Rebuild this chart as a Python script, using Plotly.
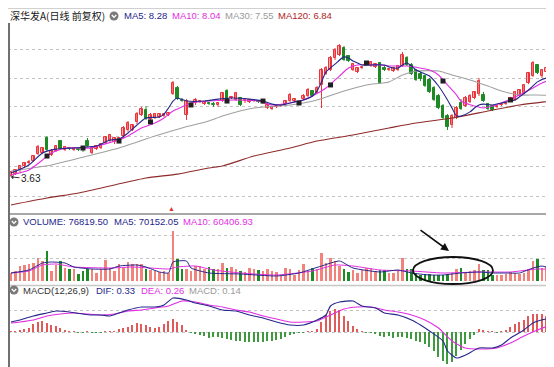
import plotly.graph_objects as go

# ---------------- data ----------------
opens = [3.67, 3.76, 3.95, 4.13, 4.27, 4.36, 4.68, 4.73, 5.42, 4.64,
         4.82, 5.28, 4.87, 4.96, 4.87, 4.91, 5.01, 5.28, 4.73, 4.91,
         4.96, 5.19, 5.28, 5.24, 5.33, 5.51, 5.79, 5.79, 6.16, 6.48,
         6.71, 6.29, 6.34, 6.39, 6.43, 6.48, 7.44, 7.72, 7.17, 6.48,
         6.94, 7.03, 7.08, 6.98, 7.03, 6.98, 6.94, 7.12, 7.58, 7.26,
         7.17, 7.26, 7.12, 7.08, 7.12, 7.12, 7.03, 6.80, 6.75, 6.85,
         6.89, 6.98, 7.12, 7.12, 6.98, 7.21, 7.35, 7.58, 7.49, 7.86,
         8.36, 8.55, 9.10, 9.24, 9.56, 9.19, 8.55, 8.46, 8.64, 8.82,
         8.73, 8.69, 8.87, 8.64, 8.55, 8.50, 8.55, 8.73, 9.10, 8.78,
         8.55, 8.36, 8.27, 8.09, 7.72, 7.35, 6.89, 6.43, 6.02, 6.34,
         7.03, 6.89, 7.08, 7.26, 7.44, 7.40, 6.98, 6.89, 6.85, 6.94,
         6.98, 7.12, 7.17, 7.35, 7.49, 7.95, 8.27, 8.78, 8.27, 8.46,
         8.55, 7.63, 7.72]
closes = [3.86, 3.95, 4.13, 4.27, 4.32, 4.59, 5.01, 4.96, 4.87, 4.82,
          5.05, 4.91, 5.01, 4.91, 4.96, 4.87, 4.87, 5.05, 4.96, 5.05,
          5.14, 5.47, 5.56, 5.42, 5.42, 5.88, 6.11, 6.02, 6.52, 6.75,
          6.29, 6.48, 6.52, 6.52, 6.52, 6.57, 7.95, 7.21, 7.12, 7.12,
          6.98, 7.17, 7.12, 7.08, 6.98, 6.94, 7.03, 7.49, 7.21, 7.31,
          7.49, 6.94, 7.17, 7.17, 7.17, 7.08, 7.08, 6.94, 6.85, 6.89,
          6.94, 7.12, 7.40, 7.21, 7.08, 7.35, 7.63, 7.35, 7.72, 8.55,
          8.64, 9.10, 9.47, 9.65, 9.01, 8.96, 8.82, 8.64, 8.69, 8.87,
          8.92, 8.82, 7.95, 8.55, 8.59, 8.64, 8.73, 9.24, 8.78, 8.36,
          8.09, 8.13, 7.81, 7.54, 7.17, 6.80, 6.34, 5.93, 6.43, 6.80,
          6.75, 7.26, 7.35, 7.54, 8.04, 7.12, 6.75, 6.71, 6.89, 6.98,
          7.03, 7.26, 7.54, 7.63, 7.86, 8.41, 8.87, 8.41, 8.55, 8.64,
          8.36, 8.27, 8.18]
highs = [3.90, 3.99, 4.18, 4.32, 4.41, 4.64, 5.10, 5.01, 5.51, 4.91,
         5.10, 5.33, 5.05, 5.01, 5.01, 4.96, 5.05, 5.42, 5.01, 5.10,
         5.19, 5.51, 5.60, 5.47, 5.47, 5.97, 6.20, 6.06, 6.62, 6.85,
         6.89, 6.57, 6.57, 6.57, 6.57, 6.62, 8.04, 7.81, 7.26, 7.21,
         7.03, 7.26, 7.17, 7.12, 7.08, 7.08, 7.08, 7.54, 7.67, 7.35,
         7.54, 7.31, 7.21, 7.21, 7.21, 7.17, 7.12, 6.98, 6.89, 6.94,
         6.98, 7.17, 7.49, 7.26, 7.12, 7.44, 7.72, 7.63, 7.81, 8.64,
         8.73, 9.19, 9.56, 9.74, 9.65, 9.24, 8.87, 8.69, 8.73, 8.92,
         8.96, 8.87, 8.92, 8.73, 8.64, 8.69, 8.78, 9.38, 9.19, 8.87,
         8.59, 8.46, 8.32, 8.18, 7.81, 7.44, 6.98, 6.52, 6.52, 6.89,
         7.21, 7.35, 7.44, 7.58, 8.18, 7.54, 7.03, 6.94, 6.94, 7.03,
         7.08, 7.31, 7.58, 7.67, 7.90, 8.46, 8.96, 8.82, 8.59, 8.69,
         8.64, 8.32, 8.23]
lows = [3.63, 3.72, 3.86, 4.04, 4.18, 4.32, 4.64, 4.68, 4.82, 4.59,
        4.78, 4.87, 4.82, 4.87, 4.82, 4.82, 4.78, 5.01, 4.68, 4.87,
        4.91, 5.14, 5.24, 5.14, 5.28, 5.42, 5.70, 5.74, 6.06, 6.43,
        6.25, 6.25, 6.29, 6.34, 6.39, 6.43, 7.40, 7.17, 7.08, 6.25,
        6.89, 6.94, 7.03, 6.94, 6.94, 6.85, 6.85, 7.08, 7.17, 7.21,
        7.12, 6.89, 7.03, 7.03, 7.08, 7.03, 6.98, 6.75, 6.71, 6.80,
        6.85, 6.94, 7.08, 7.08, 6.94, 7.17, 7.31, 7.31, 7.44, 6.80,
        8.32, 8.50, 9.01, 9.19, 8.96, 8.92, 8.50, 8.41, 8.59, 8.78,
        8.69, 8.64, 7.90, 8.50, 8.50, 8.46, 8.50, 8.69, 8.73, 8.32,
        8.04, 8.04, 7.77, 7.49, 7.12, 6.75, 6.29, 5.79, 5.88, 6.29,
        6.71, 6.85, 7.03, 7.21, 7.35, 7.08, 6.71, 6.66, 6.80, 6.89,
        6.94, 7.08, 7.12, 7.31, 7.44, 7.90, 8.23, 8.36, 8.18, 8.27,
        8.32, 7.58, 7.67]

ma5_idx = [0, 4, 7, 10, 14, 17, 19, 22, 24, 26, 28, 30, 33, 34, 35, 36, 37, 39, 43, 46,
           49, 53, 56, 58, 60, 63, 65, 67, 68, 69, 70, 72, 74, 75, 76, 77, 78, 80, 83, 84,
           86, 87, 88, 89, 90, 93, 95, 97, 98, 99, 100, 102, 103, 104, 105, 107, 109, 112, 113, 115,
           117, 119, 122]
ma5_val = [3.81, 4.18, 4.73, 4.91, 4.96, 5.01, 5.05, 5.33, 5.37, 5.65, 6.02, 6.34, 6.39, 6.52, 6.80, 7.12, 7.26, 7.12, 7.12, 7.21,
           7.26, 7.21, 7.12, 6.98, 6.94, 7.08, 7.17, 7.35, 7.58, 8.00, 8.46, 8.82, 9.15, 9.10, 8.96, 8.87, 8.78, 8.78, 8.78, 8.69,
           8.64, 8.78, 8.87, 8.73, 8.55, 8.27, 7.81, 7.17, 6.80, 6.43, 6.43, 6.62, 6.80, 6.94, 6.98, 6.94, 7.03, 7.17, 7.31, 7.63,
           8.00, 8.18, 8.09]
ma10_idx = [0, 4, 7, 9, 12, 15, 18, 20, 24, 26, 29, 32, 34, 36, 38, 40, 44, 50, 55, 58,
            62, 65, 67, 70, 73, 75, 77, 82, 84, 88, 93, 95, 97, 99, 100, 103, 105, 107, 110, 113,
            116, 118, 120, 122]
ma10_val = [3.72, 3.95, 4.41, 4.73, 4.96, 4.96, 4.96, 5.10, 5.33, 5.51, 5.88, 6.11, 6.34, 6.66, 6.85, 7.03, 7.12, 7.17, 7.12, 6.94,
            7.03, 7.17, 7.35, 7.72, 8.27, 8.64, 8.78, 8.78, 8.73, 8.73, 8.55, 8.32, 7.86, 7.40, 7.12, 6.89, 6.80, 6.89, 7.12, 7.40,
            7.72, 7.95, 8.09, 8.04]
ma30_idx = [0, 9, 17, 24, 32, 38, 44, 47, 54, 62, 68, 74, 79, 84, 87, 90, 95, 98, 102, 106, 109, 113, 117, 122]
ma30_val = [3.90, 4.18, 4.59, 4.96, 5.51, 5.88, 6.20, 6.43, 6.80, 6.94, 7.17, 7.58, 7.86, 8.00, 8.32, 8.50, 8.50, 8.32,
            8.09, 7.81, 7.58, 7.40, 7.40, 7.35]
ma120_idx = [0, 8, 15, 23, 30, 37, 44, 47, 54, 62, 68, 76, 84, 90, 98, 106, 113, 122]
ma120_val = [2.34, 2.66, 2.89, 3.26, 3.58, 3.76, 4.04, 4.13, 4.59, 4.96, 5.28, 5.56, 5.88, 6.11, 6.34, 6.66, 6.94, 7.17]

mark_idx = [8, 16, 24, 31, 40, 48, 56, 64, 71, 79, 96, 111, 120]
mark_val = [4.59, 4.96, 5.28, 6.16, 6.94, 7.12, 7.12, 7.03, 7.86, 8.87, 8.04, 7.17, 8.09]

volumes = [8, 10, 15, 16, 17, 18, 23, 20, 30, 10, 16, 20, 13, 12, 12, 7, 10, 12, 12, 8,
           12, 21, 13, 10, 17, 13, 19, 17, 17, 17, 12, 11, 10, 9, 10, 8, 50, 22, 12, 12,
           10, 15, 15, 12, 14, 12, 12, 18, 13, 14, 12, 10, 9, 13, 12, 11, 10, 12, 10, 9,
           5, 13, 12, 6, 11, 17, 10, 13, 12, 28, 18, 23, 20, 15, 12, 9, 11, 8, 11, 13,
           13, 10, 11, 11, 8, 8, 10, 23, 12, 12, 8, 6, 7, 7, 6, 6, 6, 7, 8, 12,
           13, 9, 10, 11, 17, 11, 11, 6, 6, 6, 7, 9, 8, 7, 8, 12, 20, 22, 13, 15,
           8, 7, 8]
vma5_idx = [0, 4, 7, 9, 12, 14, 18, 22, 24, 28, 30, 33, 35, 36, 39, 40, 44, 51, 59, 64,
            69, 73, 76, 82, 86, 89, 93, 96, 100, 104, 107, 110, 113, 116, 118, 120, 122]
vma5_val = [8, 11, 18, 19, 18, 14, 12, 12, 15, 16, 14, 9, 8, 19, 20, 13, 8, 7, 5, 8,
            15, 20, 13, 9, 11, 8, 6, 6, 8, 9, 8, 8, 8, 13, 15, 12, 9]
vma10_idx = [0, 4, 7, 10, 14, 22, 27, 31, 35, 37, 41, 45, 51, 59, 67, 72, 76, 82, 89, 96, 104, 111, 117, 122]
vma10_val = [8, 10, 16, 17, 14, 13, 14, 13, 12, 14, 15, 11, 8, 6, 10, 16, 15, 11, 10, 8, 9, 9, 12, 11]

macd_hist = [0.025, 0.025, 0.05, 0.075,
             0.10, 0.20, 0.25, 0.275, 0.225, 0.175, 0.15, 0.10, 0.05, 0.025,
             0.0125, -0.0125, -0.0125, 0.0125, -0.0125, -0.025, -0.0125, 0.0125, 0.0125, 0.025,
             0.075, 0.10, 0.125, 0.175, 0.225, 0.20, 0.175, 0.125, 0.10, 0.125, 0.20, 0.275, 0.325, 0.25, 0.175, 0.05,
             -0.025, -0.05, -0.075, -0.10, -0.15, -0.125, -0.125, -0.15, -0.175, -0.20, -0.225, -0.225,
             -0.25, -0.25, -0.25, -0.25, -0.25, -0.225,
             -0.225, -0.20, -0.175, -0.125, -0.075, -0.05, -0.025, -0.025, 0.0075,
             0.025, 0.075, 0.25, 0.425, 0.525, 0.575, 0.55, 0.40, 0.275, 0.15, 0.075, 0.0075,
             -0.025, -0.025, -0.05, -0.10, -0.125, -0.10, -0.15, -0.125, -0.125, -0.15, -0.175, -0.225,
             -0.25, -0.30, -0.375, -0.475, -0.625, -0.725, -0.80, -0.75, -0.60, -0.45, -0.30, -0.175, -0.075,
             0.075, 0.05, 0.025, 0.0075, -0.025, 0.025, 0.05, 0.125, 0.20, 0.25, 0.30, 0.40, 0.45, 0.45,
             0.45, 0.40, 0.30, 0.20, 0.15]
dif_idx = [0, 2, 5, 8, 10, 13, 16, 18, 20, 22, 24, 26, 29, 32, 34, 36, 39, 41, 44, 47,
           50, 53, 56, 59, 62, 65, 68, 70, 71, 73, 76, 78, 81, 83, 86, 89, 91, 93, 96, 97,
           99, 101, 104, 107, 109, 111, 114, 116, 119, 121, 122]
dif_val = [0.25, 0.30, 0.40, 0.475, 0.525, 0.50, 0.45, 0.425, 0.425, 0.40, 0.475, 0.55, 0.625, 0.625, 0.675,
           0.85, 0.80, 0.725, 0.65, 0.55, 0.525, 0.425, 0.35, 0.25, 0.175, 0.175, 0.30, 0.425, 0.65, 0.75,
           0.775, 0.65, 0.60, 0.475, 0.425, 0.30, 0.175, 0.025, -0.225, -0.475, -0.65, -0.575, -0.40, -0.40,
           -0.325, -0.15, 0.05, 0.225, 0.325, 0.275, 0.175]
dea_idx = [0, 2, 5, 8, 11, 14, 17, 20, 23, 26, 29, 32, 35, 38, 41, 44, 47, 50, 53, 56,
           59, 62, 65, 68, 71, 74, 77, 80, 83, 86, 89, 92, 95, 98, 101, 104, 108, 111, 114, 117,
           120, 122]
dea_val = [0.225, 0.25, 0.30, 0.40, 0.45, 0.475, 0.45, 0.425, 0.45, 0.525, 0.55, 0.60, 0.65, 0.775, 0.75,
           0.675, 0.625, 0.55, 0.50, 0.40, 0.325, 0.25, 0.25, 0.275, 0.425, 0.575, 0.625, 0.625, 0.55, 0.50,
           0.425, 0.30, 0.10, -0.225, -0.40, -0.425, -0.40, -0.275, -0.10, 0.05, 0.175, 0.225]

price_grid = [2.75, 4.13, 5.51, 6.85, 8.18, 9.51]
vol_grid = [23, 46]
macd_grid = [0, 0.55]
low_label = "3.63"

# ---------------- helpers ----------------
W, H = 554, 367
def fx(p):
    return p / W
def fy(p):
    return 1 - p / H

n = len(closes)
idx = list(range(n))
up = [i for i in idx if closes[i] >= opens[i]]
dn = [i for i in idx if closes[i] < opens[i]]

RED_LINE = '#e8343a'
RED_FILL = '#ffb0b0'
GREEN = '#1e8a26'
NAVY = '#26268c'
MAGENTA = '#e22ee2'
GRAY = '#a0a0a0'
BROWN = '#8e2a2a'

def wick(ids):
    xs, ys = [], []
    for i in ids:
        xs += [i, i, None]
        ys += [lows[i], highs[i], None]
    return xs, ys

fig = go.Figure()

wx, wy = wick(up)
fig.add_trace(go.Scatter(x=wx, y=wy, mode='lines', line=dict(color=RED_LINE, width=1),
                         hoverinfo='skip', xaxis='x', yaxis='y'))
wx, wy = wick(dn)
fig.add_trace(go.Scatter(x=wx, y=wy, mode='lines', line=dict(color=GREEN, width=1),
                         hoverinfo='skip', xaxis='x', yaxis='y'))
fig.add_trace(go.Bar(x=up, y=[closes[i] - opens[i] for i in up], base=[opens[i] for i in up],
                     width=0.62, marker=dict(color=RED_FILL, line=dict(color=RED_LINE, width=1)),
                     xaxis='x', yaxis='y'))
fig.add_trace(go.Bar(x=dn, y=[opens[i] - closes[i] for i in dn], base=[closes[i] for i in dn],
                     width=0.62, marker=dict(color=GREEN, line=dict(color=GREEN, width=1)),
                     xaxis='x', yaxis='y'))
for xs, ys, col in [(ma120_idx, ma120_val, BROWN), (ma30_idx, ma30_val, GRAY),
                    (ma10_idx, ma10_val, MAGENTA), (ma5_idx, ma5_val, NAVY)]:
    fig.add_trace(go.Scatter(x=xs, y=ys, mode='lines', line=dict(color=col, width=1.1, shape='spline', smoothing=0.6),
                             hoverinfo='skip', xaxis='x', yaxis='y'))
fig.add_trace(go.Scatter(x=mark_idx, y=mark_val, mode='markers',
                         marker=dict(symbol='square', size=5, color='#202020'),
                         hoverinfo='skip', xaxis='x', yaxis='y'))

fig.add_trace(go.Bar(x=up, y=[volumes[i] for i in up], width=0.62,
                     marker=dict(color='#f2837c', line=dict(width=0)), xaxis='x', yaxis='y2'))
fig.add_trace(go.Bar(x=dn, y=[volumes[i] for i in dn], width=0.62,
                     marker=dict(color=GREEN, line=dict(width=0)), xaxis='x', yaxis='y2'))
fig.add_trace(go.Scatter(x=vma10_idx, y=vma10_val, mode='lines',
                         line=dict(color=MAGENTA, width=1, shape='spline', smoothing=0.5),
                         hoverinfo='skip', xaxis='x', yaxis='y2'))
fig.add_trace(go.Scatter(x=vma5_idx, y=vma5_val, mode='lines',
                         line=dict(color=NAVY, width=1, shape='spline', smoothing=0.5),
                         hoverinfo='skip', xaxis='x', yaxis='y2'))

pos = [i for i in idx if macd_hist[i] >= 0]
neg = [i for i in idx if macd_hist[i] < 0]
fig.add_trace(go.Bar(x=pos, y=[macd_hist[i] for i in pos], width=0.24,
                     marker=dict(color='#e05a5a', line=dict(width=0)), xaxis='x', yaxis='y3'))
fig.add_trace(go.Bar(x=neg, y=[macd_hist[i] for i in neg], width=0.24,
                     marker=dict(color='#3f9a3f', line=dict(width=0)), xaxis='x', yaxis='y3'))
fig.add_trace(go.Scatter(x=dea_idx, y=dea_val, mode='lines',
                         line=dict(color=MAGENTA, width=1.1, shape='spline', smoothing=0.6),
                         hoverinfo='skip', xaxis='x', yaxis='y3'))
fig.add_trace(go.Scatter(x=dif_idx, y=dif_val, mode='lines',
                         line=dict(color=NAVY, width=1.1, shape='spline', smoothing=0.6),
                         hoverinfo='skip', xaxis='x', yaxis='y3'))

grid_common = dict(showticklabels=False, zeroline=False, showline=False, ticks='',
                   gridcolor='#c4c4c4', griddash='dot', gridwidth=1, fixedrange=True)

fig.update_layout(
    width=W, height=H, margin=dict(l=0, r=0, t=0, b=0),
    paper_bgcolor='white', plot_bgcolor='white',
    showlegend=False, barmode='overlay', bargap=0,
    font=dict(family='Liberation Sans, Arial, Noto Sans CJK SC, sans-serif', size=10),
    xaxis=dict(domain=[0, 1], range=[-0.667, 122.444], visible=False, fixedrange=True),
    yaxis=dict(domain=[fy(205), fy(18)], range=[1.97, 10.572], tickvals=price_grid, anchor='x', **grid_common),
    yaxis2=dict(domain=[fy(277), fy(207)], range=[-4, 66], tickvals=vol_grid, anchor='x', **grid_common),
    yaxis3=dict(domain=[fy(361), fy(279)], range=[-0.925, 1.125], tickvals=macd_grid, anchor='x', **grid_common),
)

shapes = []
shapes.append(dict(type='line', xref='paper', yref='paper', x0=0, x1=1, y0=fy(0.5), y1=fy(0.5),
                   line=dict(color='#d0d0d0', width=1)))
shapes.append(dict(type='line', xref='paper', yref='paper', x0=0, x1=1, y0=fy(206), y1=fy(206),
                   line=dict(color='#a8a8a8', width=2)))
shapes.append(dict(type='line', xref='paper', yref='paper', x0=0, x1=1, y0=fy(277.5), y1=fy(277.5),
                   line=dict(color='#c8c8c8', width=1.5)))
shapes.append(dict(type='line', xref='paper', yref='paper', x0=0, x1=1, y0=fy(361.5), y1=fy(361.5),
                   line=dict(color='#b4b4b4', width=2)))
shapes.append(dict(type='line', xref='paper', yref='paper', x0=fx(1), x1=fx(1), y0=fy(15), y1=0,
                   line=dict(color='#707070', width=2)))
for cx, cy in [(106, 8), (6, 214), (6, 282), (6, 365)]:
    shapes.append(dict(type='circle', xref='paper', yref='paper', x0=fx(cx - 4.5), x1=fx(cx + 4.5),
                       y0=fy(cy + 4.5), y1=fy(cy - 4.5), fillcolor='#7a7a7a', line=dict(width=0)))
    shapes.append(dict(type='path', xref='paper', yref='paper',
                       path=f"M {fx(cx-2.2)},{fy(cy-1)} L {fx(cx)},{fy(cy+1.4)} L {fx(cx+2.2)},{fy(cy-1)}",
                       line=dict(color='white', width=1.3)))
shapes.append(dict(type='circle', xref='paper', yref='paper', x0=fx(405), x1=fx(485),
                   y0=fy(276), y1=fy(249), line=dict(color='#111111', width=1.8)))
fig.update_layout(shapes=shapes)

ann = []
def txt(x, y, s, color, size=9.5, family=None):
    d = dict(xref='paper', yref='paper', x=fx(x), y=fy(y), text=s, showarrow=False,
             xanchor='left', yanchor='middle', font=dict(color=color, size=size))
    if family:
        d['font']['family'] = family
    ann.append(d)

txt(0, 8, "深华发A(日线 前复权)", '#151515', 10, 'Noto Sans CJK SC, sans-serif')
txt(114, 8, "MA5: 8.28", NAVY)
txt(162, 8, "MA10: 8.04", MAGENTA)
txt(215, 8, "MA30: 7.55", '#9a9a9a')
txt(268, 8, "MA120: 6.84", '#b01c1c')

txt(13, 214, "VOLUME: 76819.50", NAVY)
txt(104, 214, "MA5: 70152.05", NAVY)
txt(173, 214, "MA10: 60406.93", MAGENTA)

txt(13, 282, "MACD(12,26,9)", '#333333')
txt(86, 282, "DIF: 0.33", NAVY)
txt(131, 282, "DEA: 0.26", MAGENTA)
txt(179, 282, "MACD: 0.14", '#9a9a9a')

txt(13, 364.5, "KD(9,3,3)", '#333333')
txt(64, 364.5, "K: 77.27", NAVY)
txt(106, 364.5, "D: 75.64", MAGENTA)
txt(151, 364.5, "J: 80.84", '#9a9a9a')

ann.append(dict(x=0, y=lows[0], xref='x', yref='y', text=low_label, showarrow=True,
                ax=20, ay=2, arrowhead=1, arrowsize=0.8, arrowwidth=1, arrowcolor='#333333',
                font=dict(color='#222222', size=10)))
ann.append(dict(xref='paper', yref='paper', x=fx(158), y=fy(200), text='▲', showarrow=False,
                font=dict(color='#e03030', size=7)))
ann.append(dict(xref='paper', yref='paper', x=fx(441), y=fy(243), text='', showarrow=True,
                ax=-30, ay=-22, arrowhead=2, arrowsize=1, arrowwidth=1.6, arrowcolor='#111111'))
fig.update_layout(annotations=ann)

fig.write_html("out.html")
